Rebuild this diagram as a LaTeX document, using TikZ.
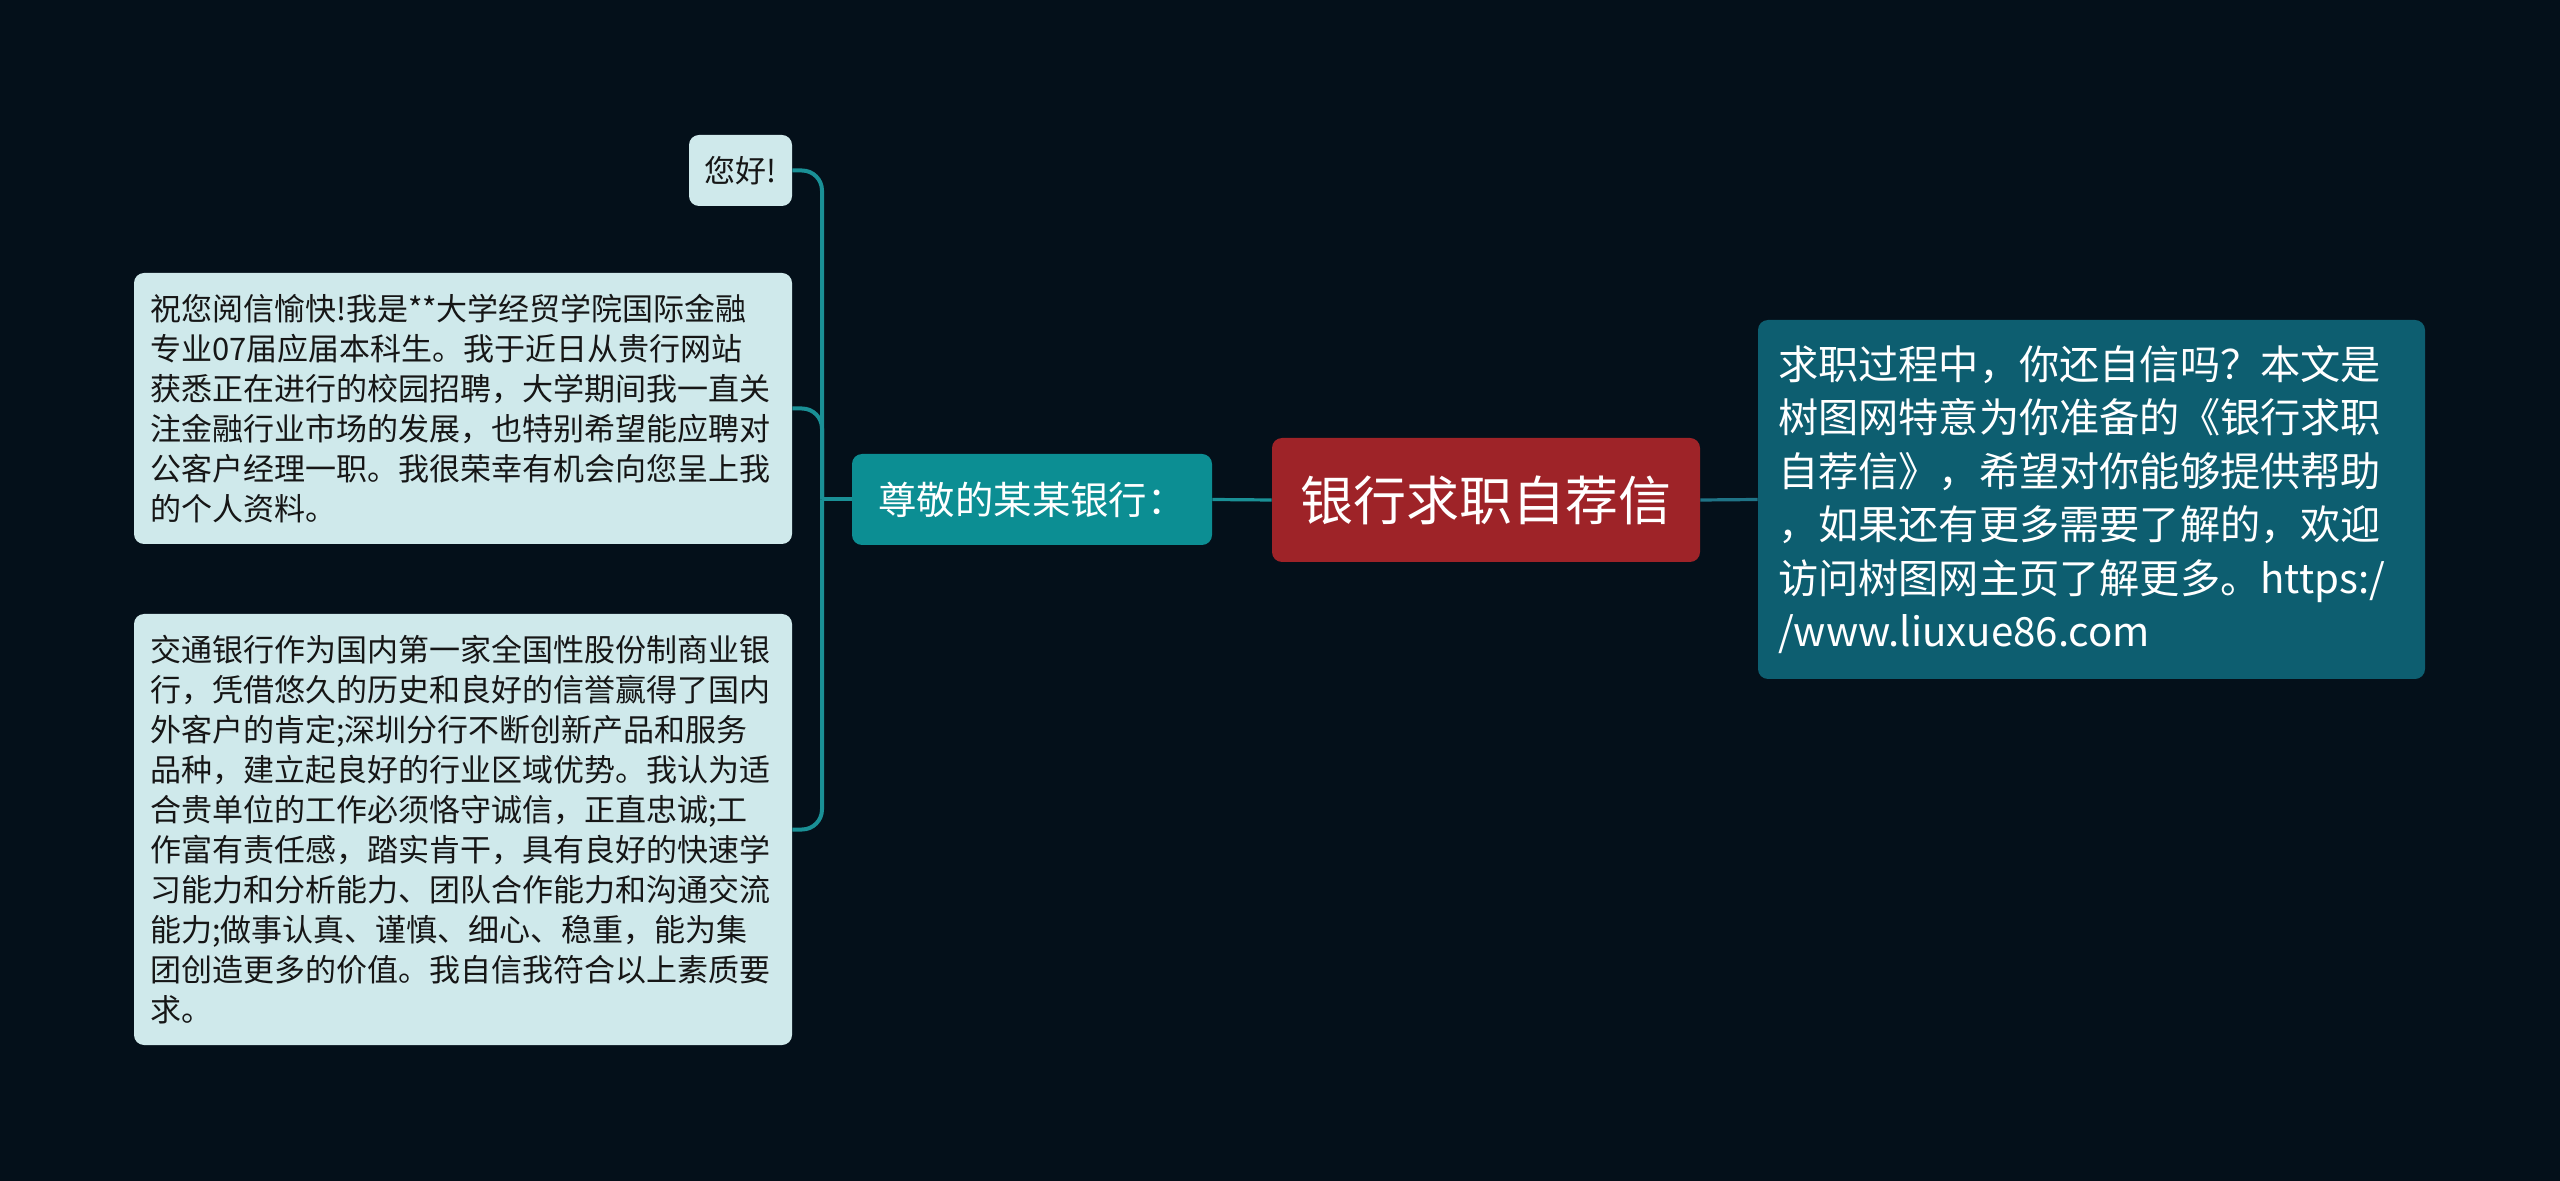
\documentclass[tikz,border=0pt]{standalone}
\usepackage{fontspec}
\newfontfamily\cjk{Noto Sans CJK SC}
\definecolor{bgc}{HTML}{04101A}
\definecolor{leaffill}{HTML}{CFE9EB}
\definecolor{leaftext}{HTML}{161616}
\definecolor{zunfill}{HTML}{0C8E93}
\definecolor{rootfill}{HTML}{9E2328}
\definecolor{rightfill}{HTML}{0D5E70}
\definecolor{linel}{HTML}{1A9096}
\definecolor{liner}{HTML}{1F7386}
\tikzset{
  leafbox/.style={draw=none, fill=leaffill, rounded corners=5pt, text=leaftext,
    font=\cjk\fontsize{15.5pt}{20pt}\selectfont, inner xsep=8pt, inner ysep=0pt},
  conn/.style={draw=linel, line width=2pt, rounded corners=10pt},
  rootline/.style={line width=1.6pt}
}
\begin{document}
\begin{tikzpicture}[x=0.5pt,y=-0.5pt]
\useasboundingbox (0,0) rectangle (2560,1181);
\fill[bgc] (0,0) rectangle (2560,1181);

\node[fill=rootfill, rounded corners=5pt, text=white, minimum width=214pt, minimum height=62pt,
  font=\cjk\fontsize{26.5pt}{32pt}\selectfont, inner sep=0pt] (root) at (1486,500) {银行求职自荐信};

\node[fill=zunfill, rounded corners=5pt, text=white, minimum width=180pt, minimum height=45.5pt,
  font=\cjk\fontsize{19.2pt}{24pt}\selectfont, inner sep=0pt] (zun) at (1032,499.5) {尊敬的某某银行：};

\node[fill=rightfill, rounded corners=5pt, text=white, minimum height=179.5pt,
  text width=313.5pt, inner xsep=10pt, inner ysep=0pt, align=left,
  font=\cjk\fontsize{20.1pt}{26.75pt}\selectfont] (right) at (2091.5,499.5)
  {求职过程中，你还自信吗？本文是\\树图网特意为你准备的《银行求职\\自荐信》，希望对你能够提供帮助\\，如果还有更多需要了解的，欢迎\\访问树图网主页了解更多。https:/\\/www.liuxue86.com};

\node[leafbox, minimum width=51.5pt, minimum height=35.5pt, inner xsep=0pt] (hello) at (740.5,170.5) {您好!};

\node[leafbox, text width=313pt, minimum height=135.5pt, align=left] (b2) at (463,408.5)
  {祝您阅信愉快!我是**大学经贸学院国际金融\\专业07届应届本科生。我于近日从贵行网站\\获悉正在进行的校园招聘，大学期间我一直关\\注金融行业市场的发展，也特别希望能应聘对\\公客户经理一职。我很荣幸有机会向您呈上我\\的个人资料。};

\node[leafbox, text width=313pt, minimum height=215.5pt, align=left] (b3) at (463,829.5)
  {交通银行作为国内第一家全国性股份制商业银\\行，凭借悠久的历史和良好的信誉赢得了国内\\外客户的肯定;深圳分行不断创新产品和服务\\品种，建立起良好的行业区域优势。我认为适\\合贵单位的工作必须恪守诚信，正直忠诚;工\\作富有责任感，踏实肯干，具有良好的快速学\\习能力和分析能力、团队合作能力和沟通交流\\能力;做事认真、谨慎、细心、稳重，能为集\\团创造更多的价值。我自信我符合以上素质要\\求。};

\coordinate (j) at (822,499.5);
\draw[conn] (zun.west) -- (j);
\draw[conn] (j) |- (hello.east);
\draw[conn] (j) |- (b2.east);
\draw[conn] (j) |- (b3.east);
\draw[draw=linel, rootline] (root.west) -- (zun.east);
\draw[draw=liner, rootline] (root.east) -- (right.west);
\end{tikzpicture}
\end{document}
